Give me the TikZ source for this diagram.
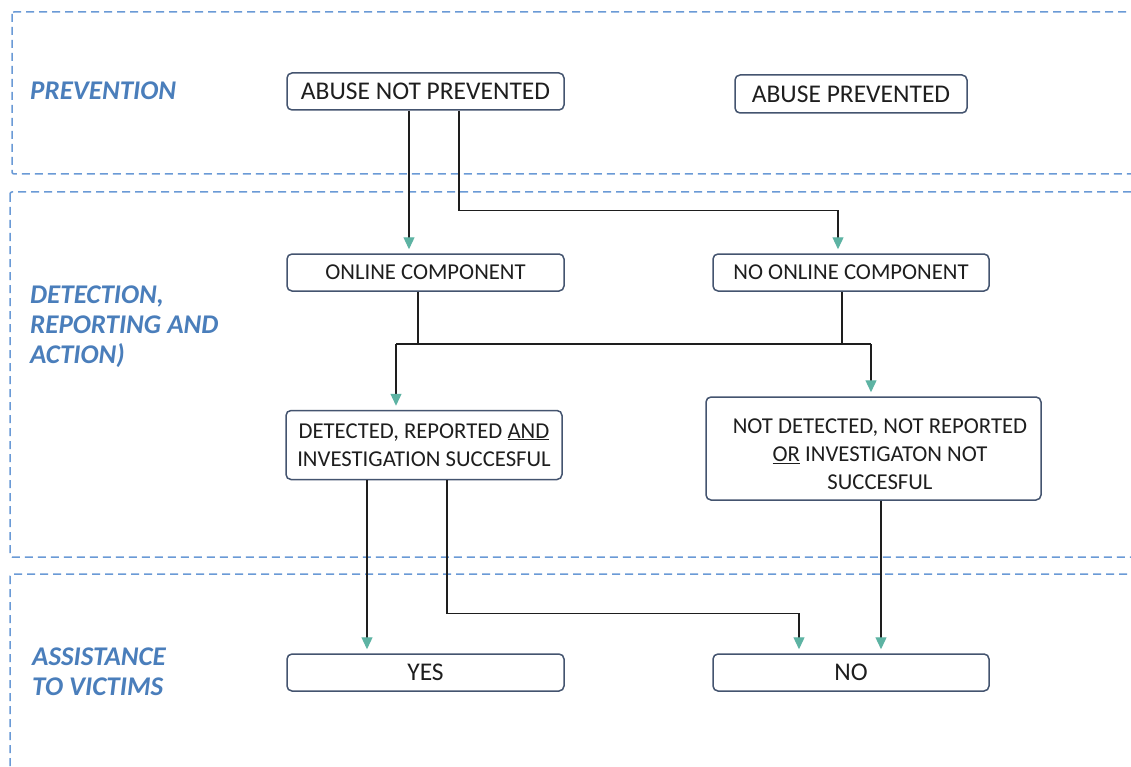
\documentclass[tikz,border=0pt]{standalone}
\usepackage{fontspec}
\setmainfont{Carlito}
\usetikzlibrary{arrows.meta}
\definecolor{dashblue}{HTML}{6A9AD6}
\definecolor{lblblue}{HTML}{4A7EBB}
\definecolor{boxedge}{HTML}{44546F}
\definecolor{tealtip}{HTML}{5DB3A3}
\definecolor{ink}{HTML}{1E1E1E}
\begin{document}
\begin{tikzpicture}[x=1pt,y=-1pt,
  zone/.style={draw=dashblue, line width=1.5pt, dash pattern=on 8pt off 5pt, rounded corners=2pt},
  zonelabel/.style={text=lblblue, font=\fontsize{27}{30}\selectfont\bfseries\itshape, anchor=west, align=left, inner sep=0pt},
  box/.style={draw=boxedge, line width=1.5pt, rounded corners=5pt, fill=white, font=\fontsize{25.5}{28}\selectfont, text=ink, minimum height=37pt, inner sep=0pt, align=center},
  sbox/.style={box, font=\fontsize{22.7}{28}\selectfont},
  boxtext/.style={font=\fontsize{22.7}{28}\selectfont, text=ink, inner sep=0pt, align=center},
  wire/.style={draw=ink, line width=1.3pt},
  conn/.style={wire, shorten >=4pt, -{Triangle[length=12pt,width=11pt,color=tealtip,fill=tealtip]}}
]
\useasboundingbox (0,0) rectangle (1131,767);
\clip (0,0) rectangle (1131,767);
\fill[white] (0,0) rectangle (1131,767);

% zones
\draw[zone] (12,12) rectangle (1170,174);
\draw[zone] (10,192) rectangle (1170,557);
\draw[zone] (10,574) rectangle (1170,820);

\node[zonelabel] (lp) at (30,91) {PREVENTION};
\node[zonelabel] (ld) at (30,327) {DETECTION,\\REPORTING AND\\ACTION)};
\node[zonelabel] (la) at (32,672) {ASSISTANCE\\TO VICTIMS};

% boxes
\node[box, minimum width=277pt] (anp) at (425.5,91.5) {ABUSE NOT PREVENTED};
\node[box, minimum width=232pt, minimum height=38pt] (ap) at (851,94) {ABUSE PREVENTED};
\node[sbox, minimum width=277pt] (oc) at (425.5,272.5) {ONLINE COMPONENT};
\node[sbox, minimum width=276pt] (noc) at (851,272.5) {NO ONLINE COMPONENT};
\node[sbox, minimum width=276pt, minimum height=69pt] (det) at (424,445) {DETECTED, REPORTED \underline{AND}\\INVESTIGATION SUCCESFUL};
\path (det.north) ++(0,0) coordinate (dettop);
\node[sbox, minimum width=335pt, minimum height=103pt] (ndet) at (873.5,448.5) {};
\node[boxtext] (ndett) at (880,454) {NOT DETECTED, NOT REPORTED\\\underline{OR} INVESTIGATON NOT\\SUCCESFUL};
\node[box, minimum width=277pt] (yes) at (425.5,672.5) {YES};
\node[box, minimum width=276pt] (no) at (851,672.5) {NO};

% connectors
\draw[conn] ([xshift=-16.5pt]anp.south) -- ([xshift=-16.5pt]oc.north);
\draw[conn] ([xshift=33.5pt]anp.south) -- ++(0,100) -| ([xshift=-13pt]noc.north);

\coordinate (mL) at (396,344);
\coordinate (mR) at (871,344);
\draw[wire] (mL) -- (mR);
\draw[wire] ([xshift=-7.5pt]oc.south) -- ([xshift=-7.5pt]oc.south |- mL);
\draw[wire] ([xshift=-9pt]noc.south) -- ([xshift=-9pt]noc.south |- mR);
\draw[conn] (mL) -- (det.north -| mL);
\draw[conn] (mR) -- (ndet.north -| mR);

\draw[conn] ([xshift=-57pt]det.south) -- ([xshift=-58.5pt]yes.north);
\draw[conn] ([xshift=23pt]det.south) -- ++(0,133.5) -| ([xshift=-52pt]no.north);
\draw[conn] ([xshift=7.5pt]ndet.south) -- ([xshift=30pt]no.north);
\end{tikzpicture}
\end{document}
